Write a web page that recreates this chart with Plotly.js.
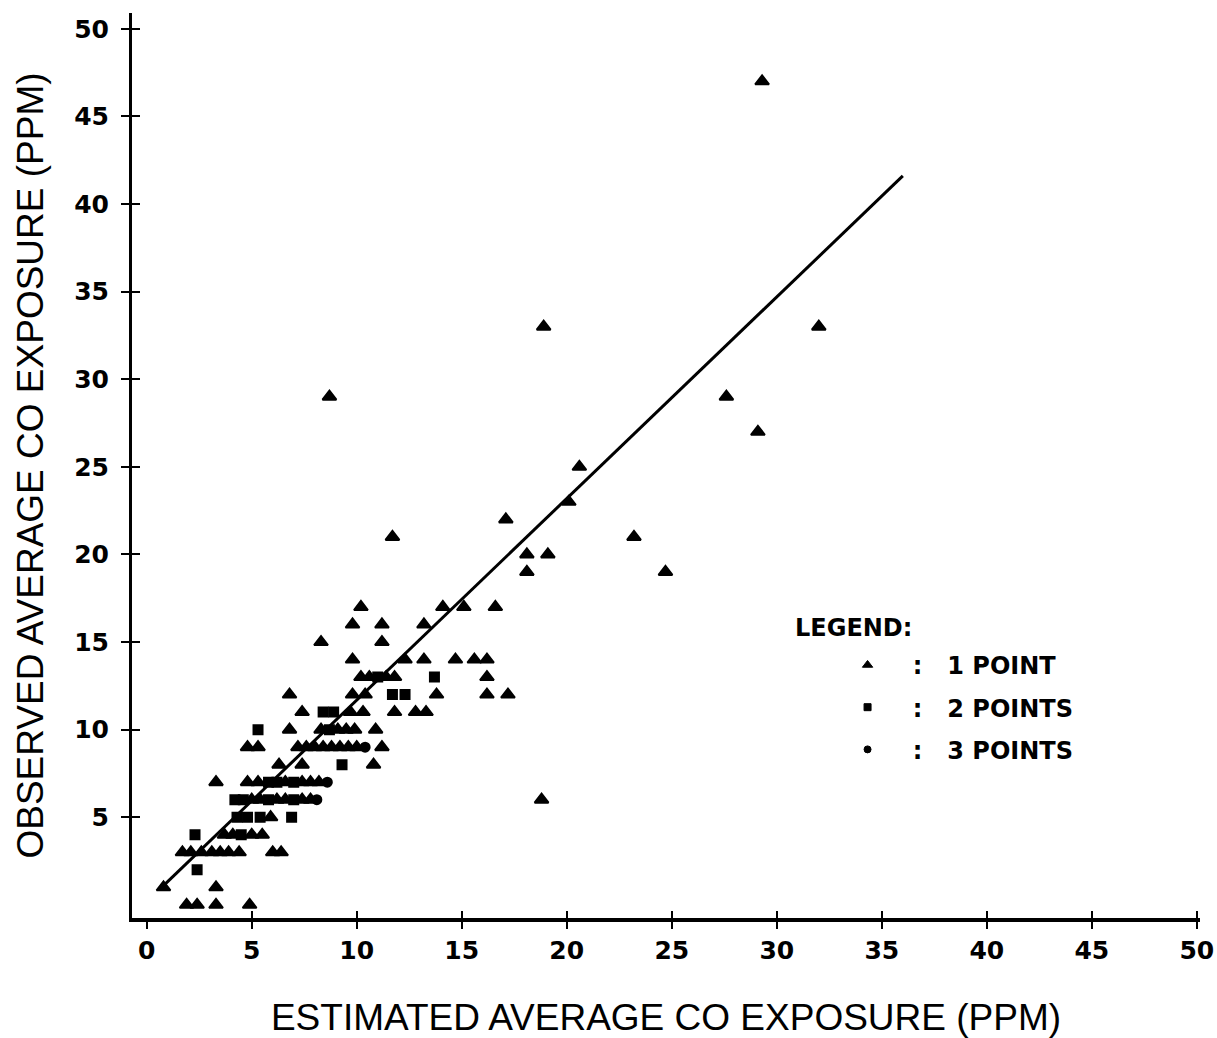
<!DOCTYPE html>
<html>
<head>
<meta charset="utf-8">
<script src="https://cdn.plot.ly/plotly-3.0.1.min.js"></script>
<style>
  html, body { margin: 0; padding: 0; background: #ffffff; }
  #chart { width: 1217px; height: 1038px; }
</style>
</head>
<body>
<div id="chart"></div>
<script>
// Estimated vs observed average CO exposure (ppm).
// Triangles mark a single observation, squares two coincident ones, circles three.

const onePointX = [
  1.9, 2.4, 3.3, 4.9,
  0.8, 3.3,
  1.7, 2.1, 2.6, 3.1, 3.5, 3.9, 4.4, 6.0, 6.4,
  3.7, 4.1, 5.0, 5.5,
  5.9,
  5.0, 5.4, 6.2, 6.6, 7.4, 7.8, 18.8,
  3.3, 4.8, 5.3, 6.6, 7.4, 7.8, 8.2,
  6.3, 7.4, 10.8,
  4.8, 5.3, 7.2, 7.6, 8.0, 8.4, 8.8, 9.2, 9.6, 10.0, 11.2,
  6.8, 8.3, 9.1, 9.5, 9.9, 10.9,
  7.4, 9.7, 10.3, 11.8, 12.8, 13.3,
  6.8, 9.8, 10.4, 13.8, 16.2, 17.2,
  10.2, 10.6, 11.4, 11.8, 16.2,
  9.8, 12.3, 13.2, 14.7, 15.6, 16.2,
  8.3, 11.2,
  9.8, 11.2, 13.2,
  10.2, 14.1, 15.1, 16.6,
  18.1, 24.7,
  18.1, 19.1,
  11.7, 23.2,
  17.1,
  20.1,
  20.6,
  29.1,
  8.7, 27.6,
  18.9, 32.0,
  29.3
];
const onePointY = [
  0, 0, 0, 0,
  1, 1,
  3, 3, 3, 3, 3, 3, 3, 3, 3,
  4, 4, 4, 4,
  5,
  6, 6, 6, 6, 6, 6, 6,
  7, 7, 7, 7, 7, 7, 7,
  8, 8, 8,
  9, 9, 9, 9, 9, 9, 9, 9, 9, 9, 9,
  10, 10, 10, 10, 10, 10,
  11, 11, 11, 11, 11, 11,
  12, 12, 12, 12, 12, 12,
  13, 13, 13, 13, 13,
  14, 14, 14, 14, 14, 14,
  15, 15,
  16, 16, 16,
  17, 17, 17, 17,
  19, 19,
  20, 20,
  21, 21,
  22,
  23,
  25,
  27,
  29, 29,
  33, 33,
  47
];

const twoPointsX = [2.4, 2.3, 4.5, 4.3, 4.8, 5.4, 6.9, 4.2, 4.6, 5.8, 7.0, 5.8, 6.2, 7.0, 9.3, 5.3, 8.7, 8.4, 8.9, 11.7, 12.3, 11.0, 13.7];
const twoPointsY = [2,   4,   4,   5,   5,   5,   5,   6,   6,   6,   6,   7,   7,   7,   8,   10,  10,  11,  11,  12,   12,   13,   13];

const threePointsX = [8.1, 8.6, 10.4];
const threePointsY = [6,   7,   9];

// Fitted line, end points
const fitX = [0.8, 36.0];
const fitY = [1.1, 41.6];

const xTicks = [0, 5, 10, 15, 20, 25, 30, 35, 40, 45, 50];
const yTicks = [5, 10, 15, 20, 25, 30, 35, 40, 45, 50];

const legendNames = ['\u00a0\u00a0\u00a0:\u00a0\u00a0\u00a01 POINT', '\u00a0\u00a0\u00a0:\u00a0\u00a0\u00a02 POINTS', '\u00a0\u00a0\u00a0:\u00a0\u00a0\u00a03 POINTS'];

const INK = '#000000';
const tickFont = { family: 'DejaVu Sans, sans-serif', size: 25, color: INK, weight: 'bold' };
const keyFont = { family: 'DejaVu Sans, sans-serif', size: 24, color: INK, weight: 'bold' };
const titleFont = { family: 'Liberation Sans, Arial, sans-serif', size: 37, color: INK };

function markerTrace(xs, ys, symbol, size) {
  return {
    type: 'scatter', mode: 'markers', x: xs, y: ys,
    xaxis: 'x', yaxis: 'y',
    showlegend: false, hoverinfo: 'x+y',
    marker: { symbol: symbol, size: size, color: INK, line: { color: INK, width: 2 } }
  };
}

function keyTrace(name, symbol, size, group) {
  return {
    type: 'scatter', mode: 'markers', x: [null], y: [null],
    name: name, legendgroup: group, showlegend: true,
    marker: { symbol: symbol, size: size, color: INK, line: { color: INK, width: 1 } }
  };
}

const traces = [
  {
    type: 'scatter', mode: 'lines', x: fitX, y: fitY,
    xaxis: 'x2', yaxis: 'y2', showlegend: false, hoverinfo: 'skip',
    line: { color: INK, width: 3 }
  },
  markerTrace(onePointX, onePointY, 'triangle-up', 12),
  markerTrace(twoPointsX, twoPointsY, 'square', 9),
  markerTrace(threePointsX, threePointsY, 'circle', 9),
  keyTrace(legendNames[0], 'triangle-up', 9, 'g1'),
  keyTrace(legendNames[1], 'square', 7, 'g2'),
  keyTrace(legendNames[2], 'circle', 7, 'g3')
];

const xRange = [-0.7, 50.15];
const yRange = [-0.75, 50.9];

const layout = {
  width: 1217, height: 1038,
  paper_bgcolor: '#ffffff', plot_bgcolor: '#ffffff',
  margin: { l: 132, r: 17, t: 13, b: 120 },
  showlegend: true,
  xaxis: {
    range: xRange, tickmode: 'array', tickvals: xTicks,
    ticks: 'outside', ticklen: 7, tickwidth: 2, tickcolor: INK,
    ticklabelstandoff: 0,
    showline: true, linewidth: 4, linecolor: INK,
    showgrid: false, zeroline: false,
    tickfont: tickFont,
    title: { text: 'ESTIMATED AVERAGE CO EXPOSURE (PPM)', font: titleFont, standoff: 48 }
  },
  yaxis: {
    range: yRange, tickmode: 'array', tickvals: yTicks,
    ticks: 'outside', ticklen: 8, tickwidth: 2, tickcolor: INK,
    ticklabelstandoff: 7,
    showline: true, linewidth: 3, linecolor: INK,
    showgrid: false, zeroline: false,
    tickfont: tickFont,
    title: { text: 'OBSERVED AVERAGE CO EXPOSURE (PPM)', font: titleFont, standoff: 20 }
  },
  xaxis2: {
    overlaying: 'x', anchor: 'y2', side: 'bottom',
    range: xRange, tickmode: 'array', tickvals: xTicks.slice(1),
    ticks: 'inside', ticklen: 7, tickwidth: 2, tickcolor: INK,
    showticklabels: false, showline: false, showgrid: false, zeroline: false
  },
  yaxis2: {
    overlaying: 'y', anchor: 'x2', side: 'left',
    range: yRange, tickmode: 'array', tickvals: yTicks,
    ticks: 'inside', ticklen: 8, tickwidth: 2, tickcolor: INK,
    showticklabels: false, showline: false, showgrid: false, zeroline: false
  },
  legend: {
    x: 0.67, y: 0.304, xanchor: 'left', yanchor: 'top',
    bgcolor: 'rgba(0,0,0,0)', borderwidth: 0,
    font: keyFont, tracegroupgap: 8, itemclick: false, itemdoubleclick: false
  },
  annotations: [
    {
      xref: 'paper', yref: 'paper', x: 0.619, y: 0.3204,
      xanchor: 'left', yanchor: 'middle', showarrow: false,
      text: 'LEGEND:', font: keyFont
    }
  ]
};

Plotly.newPlot('chart', traces, layout, { displayModeBar: false, staticPlot: true });
</script>
</body>
</html>
